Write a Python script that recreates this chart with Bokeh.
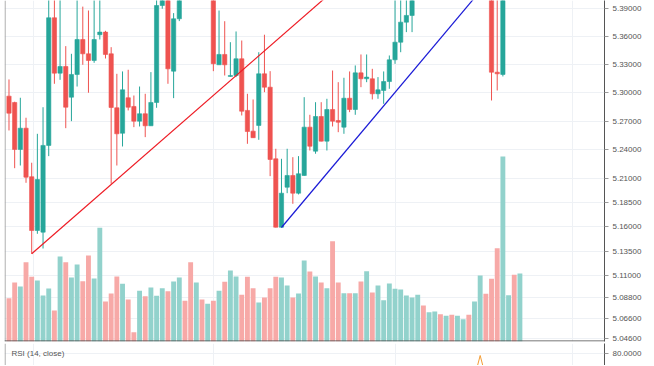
import numpy as np
from bokeh.plotting import figure
from bokeh.layouts import column
from bokeh.models import (ColumnDataSource, Range1d, LinearScale, FixedTicker,
                          PrintfTickFormatter, Span, Label)
from bokeh.embed import file_html
from bokeh.resources import INLINE

# ---------------- data ----------------
opens = [5.2964, 5.2897, 5.2403, 5.2626, 5.2118, 5.1561, 5.1544, 5.2445, 5.3800, 5.3208,
         5.3279, 5.2953, 5.3194, 5.3567, 5.3414, 5.3343, 5.3618, 5.3646, 5.3414, 5.2841,
         5.2573, 5.2947, 5.2855, 5.2700, 5.2778, 5.2651, 5.2897, 5.3932, 5.418, 5.3229,
         5.3789, 5.422, 5.418, 5.414, 5.426, 5.416, 5.428, 5.3297, 5.3407, 5.3173,
         5.3183, 5.3361, 5.2813, 5.2595, 5.2655, 5.3201, 5.3059, 5.2305, 5.1595, 5.2009,
         5.2131, 5.1947, 5.2131, 5.2637, 5.2385, 5.2749, 5.2490, 5.2823, 5.2707, 5.2637,
         5.2942, 5.2823, 5.3211, 5.3148, 5.3148, 5.2989, 5.3024, 5.3119, 5.3350, 5.3538,
         5.3753, 5.3825, 5.416, 5.424, 5.417, 5.431, 5.440, 5.432, 5.448, 5.441,
         5.455, 5.463, 5.457, 5.472, 5.485, 5.468, 5.3218, 5.3194, 5.450, 5.462, 5.452]
highs = [5.3141, 5.2905, 5.2947, 5.2736, 5.2264, 5.2567, 5.2847, 5.405, 5.402, 5.400,
         5.3496, 5.3414, 5.399, 5.392, 5.3878, 5.399, 5.399, 5.3660, 5.3485, 5.3201,
         5.3226, 5.3244, 5.2971, 5.3066, 5.2989, 5.3219, 5.405, 5.430, 5.428, 5.385,
         5.425, 5.432, 5.424, 5.432, 5.438, 5.442, 5.435, 5.3878, 5.3763, 5.3538,
         5.3653, 5.3556, 5.2989, 5.2929, 5.3431, 5.3618, 5.3229, 5.2410, 5.2305, 5.2410,
         5.2322, 5.2333, 5.2953, 5.2767, 5.2900, 5.2900, 5.2936, 5.3236, 5.3112, 5.3159,
         5.3226, 5.3290, 5.3407, 5.3407, 5.3254, 5.3166, 5.3226, 5.3396, 5.400, 5.401,
         5.400, 5.420, 5.428, 5.430, 5.436, 5.445, 5.446, 5.452, 5.455, 5.460,
         5.468, 5.470, 5.478, 5.490, 5.492, 5.475, 5.405, 5.460, 5.468, 5.470, 5.475]
lows = [5.2602, 5.2207, 5.2235, 5.2055, 5.1322, 5.1527, 5.1376, 5.2333, 5.3095, 5.3137,
        5.2626, 5.2700, 5.3066, 5.3297, 5.3000, 5.3318, 5.3567, 5.3364, 5.2045, 5.2235,
        5.2434, 5.2813, 5.2637, 5.2644, 5.2532, 5.2651, 5.2841, 5.3897, 5.3095, 5.2943,
        5.3764, 5.412, 5.412, 5.412, 5.413, 5.414, 5.3229, 5.3297, 5.3183, 5.3169,
        5.3166, 5.2760, 5.2462, 5.2524, 5.2504, 5.3006, 5.2124, 5.1592, 5.1592, 5.1947,
        5.1837, 5.1934, 5.2128, 5.2392, 5.2358, 5.2487, 5.2392, 5.2644, 5.2584, 5.2567,
        5.2795, 5.2767, 5.3059, 5.3112, 5.2929, 5.2936, 5.2883, 5.3042, 5.3307, 5.3431,
        5.3646, 5.3646, 5.412, 5.412, 5.414, 5.424, 5.425, 5.428, 5.436, 5.437,
        5.450, 5.452, 5.452, 5.466, 5.460, 5.2918, 5.3024, 5.3173, 5.442, 5.445, 5.448]
closes = [5.2784, 5.2403, 5.2626, 5.2113, 5.1561, 5.2089, 5.2445, 5.3800, 5.3208, 5.3279,
          5.2847, 5.3194, 5.3567, 5.3414, 5.3343, 5.3567, 5.3646, 5.3407, 5.2844, 5.2567,
          5.3031, 5.2847, 5.2700, 5.2778, 5.2651, 5.2897, 5.3932, 5.422, 5.3254, 5.3789,
          5.418, 5.414, 5.414, 5.426, 5.416, 5.432, 5.3308, 5.3407, 5.3297, 5.3183,
          5.3361, 5.2805, 5.2591, 5.2526, 5.3201, 5.3059, 5.2298, 5.1595, 5.1947, 5.2131,
          5.1947, 5.2149, 5.2637, 5.2437, 5.2749, 5.2490, 5.2823, 5.2700, 5.2689, 5.2942,
          5.2823, 5.3211, 5.3148, 5.3166, 5.2989, 5.3031, 5.3119, 5.3350, 5.3538, 5.3753,
          5.3825, 5.416, 5.424, 5.417, 5.431, 5.440, 5.432, 5.448, 5.441, 5.455,
          5.463, 5.457, 5.472, 5.485, 5.468, 5.3218, 5.3201, 5.450, 5.462, 5.452, 5.470]
volumes = [43.3, 59, 55, 79.3, 64.7, 61, 46, 53, 31, 85,
           79.3, 64, 77, 60.3, 86, 63, 113.7, 40, 48, 65,
           57.7, 42, 9.3, 50.7, 45.3, 54, 45.7, 53.3, 50.3, 60,
           64, 40.7, 79.3, 59, 42, 37.7, 40.7, 50.7, 59.7, 71,
           65, 46.7, 64.7, 53.3, 39, 44, 53.3, 64.7, 64, 56,
           44, 48, 81, 70, 65, 59, 53.3, 100.3, 59, 48.3,
           48.3, 48.3, 60, 70.3, 49, 56, 41.3, 58, 52.7, 52,
           46, 44, 46.7, 36, 29.3, 30, 27.3, 25.7, 26.7, 25.7,
           22.3, 26.7, 40, 66, 47.7, 62.7, 93.3, 185, 46.3, 66.7, 68]

price_ticks = [5.046, 5.066, 5.088, 5.11, 5.135, 5.16, 5.185, 5.21, 5.24, 5.27, 5.30, 5.33, 5.36, 5.39]
rsi_ticks = [80]

red_trend_x = [4, 62]
red_trend_y = [5.1322, 5.4352]
blue_trend_x = [48, 90]
blue_trend_y = [5.1592, 5.4601]

rsi_x = [81, 82, 83, 84, 85]
rsi_vals = [50, 56, 77.7, 56, 50]

# ---------------- build ----------------
UP, DOWN = "#26a69a", "#ef5350"
UP_V, DOWN_V = "#92d2cc", "#f7a9a7"
FONT = "Liberation Sans"
GRID = "#eef1f5"
vgrid = [4.3, 36, 68.1, 99.3]

xr = Range1d(-0.79, 104.9)
y_lo, y_hi = 5.043, 5.3986

o = np.array(opens); c = np.array(closes)
h = np.array(highs); l = np.array(lows)
idx = np.arange(len(opens))
up = c >= o
# candles lying wholly above the visible window are not drawn at all
shown = l < y_hi
src = ColumnDataSource(dict(
    idx=idx, volume=volumes,
    vcolor=[UP_V if u else DOWN_V for u in up],
))
csrc = ColumnDataSource(dict(
    idx=idx[shown], high=h[shown], low=l[shown],
    top=np.maximum(o, c)[shown], bottom=np.minimum(o, c)[shown],
    color=[UP if u else DOWN for u in up[shown]],
))

p = figure(frame_width=600, frame_height=341, x_range=xr,
           y_range=Range1d(y_lo, y_hi), y_axis_type="log",
           y_axis_location="right", x_axis_location=None,
           toolbar_location=None, output_backend="svg",
           min_border_left=4, min_border_right=0, min_border_top=0, min_border_bottom=2,
           outline_line_color=None, background_fill_color="white",
           border_fill_color="white")
p.extra_y_ranges = {"vol": Range1d(0, 341)}
p.extra_y_scales = {"vol": LinearScale()}

p.vbar(x="idx", top="volume", bottom=0, width=0.86, fill_color="vcolor",
       line_color=None, y_range_name="vol", source=src)
p.segment(x0="idx", y0="low", x1="idx", y1="high", line_color="color",
          line_width=1, source=csrc)
p.vbar(x="idx", top="top", bottom="bottom", width=0.75, fill_color="color",
       line_color="color", line_width=0.6, source=csrc)
p.line(red_trend_x, red_trend_y, line_color="#ee1c25", line_width=1.2)
p.line(blue_trend_x, blue_trend_y, line_color="#1a1ad6", line_width=1.2)

p.yaxis.ticker = FixedTicker(ticks=price_ticks)
p.yaxis.formatter = PrintfTickFormatter(format="%.5f")
p.ygrid.ticker = FixedTicker(ticks=price_ticks)
p.ygrid.grid_line_color = GRID
p.xgrid.ticker = FixedTicker(ticks=vgrid)
p.xgrid.grid_line_color = GRID

def style_axis(ax):
    ax.axis_line_color = "#555555"
    ax.major_tick_line_color = "#9a9a9a"
    ax.major_tick_out = 4
    ax.major_tick_in = 0
    ax.minor_tick_line_color = None
    ax.major_label_standoff = 4
    ax.major_label_text_font_size = "8px"
    ax.major_label_text_font = FONT
    ax.major_label_text_color = "#555555"

style_axis(p.yaxis[0])
p.add_layout(Span(location=xr.start + 0.1, dimension="height",
                  line_color="#9a9a9a", line_width=1))
p.add_layout(Span(location=y_lo * 1.0001, dimension="width",
                  line_color="#4d4d4d", line_width=1))

r = figure(frame_width=600, frame_height=22, x_range=xr, y_range=Range1d(67.7, 89.7),
           y_axis_location="right", x_axis_location=None,
           toolbar_location=None, output_backend="svg",
           min_border_left=4, min_border_right=0, min_border_top=0, min_border_bottom=0,
           outline_line_color=None, background_fill_color="white",
           border_fill_color="white")
r.line(rsi_x, rsi_vals, line_color="#f39c34", line_width=1)
r.yaxis.ticker = FixedTicker(ticks=rsi_ticks)
r.yaxis.formatter = PrintfTickFormatter(format="%.4f")
r.ygrid.ticker = FixedTicker(ticks=rsi_ticks)
r.ygrid.grid_line_color = GRID
r.xgrid.ticker = FixedTicker(ticks=vgrid)
r.xgrid.grid_line_color = GRID
style_axis(r.yaxis[0])
r.add_layout(Span(location=xr.start + 0.1, dimension="height",
                  line_color="#9a9a9a", line_width=1))
r.add_layout(Label(x=7, y=12, x_units="screen", y_units="screen",
                   text="RSI (14, close)", text_font=FONT,
                   text_font_size="8px", text_baseline="middle",
                   text_color="#555555"))

layout = column(p, r, spacing=0)
open("out.html", "w").write(file_html(layout, INLINE))
